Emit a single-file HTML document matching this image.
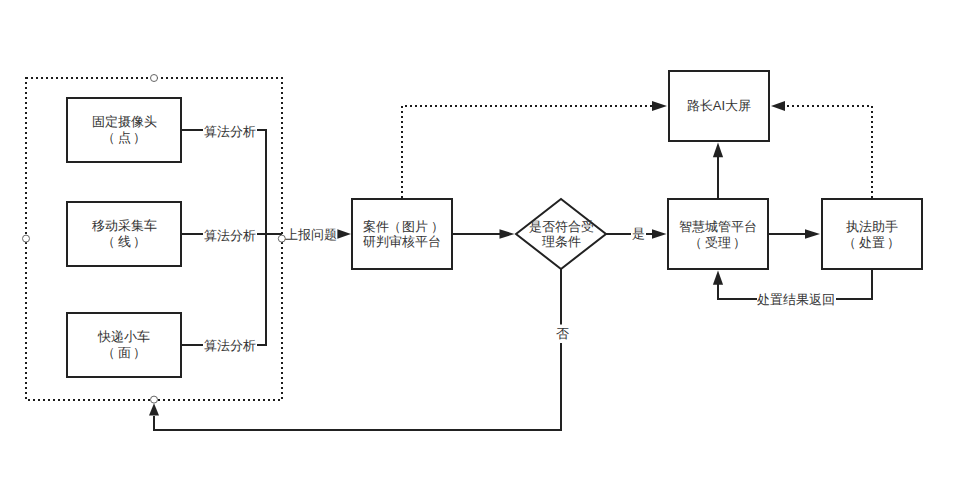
<!DOCTYPE html>
<html><head><meta charset="utf-8">
<style>
html,body{margin:0;padding:0;background:#fff;width:964px;height:484px;overflow:hidden}
svg{display:block}
text{font-family:"Liberation Sans",sans-serif;font-size:13px;fill:#333;text-anchor:start}
</style></head><body>
<svg width="964" height="484" viewBox="0 0 964 484">
<!-- dotted container -->
<rect x="26" y="78" width="256" height="322" fill="none" stroke="#1c1c1c" stroke-width="2" stroke-dasharray="2 3"/>

<g fill="none" stroke="#222" stroke-width="2">
  <rect x="67" y="98" width="114" height="64"/>
  <rect x="67" y="202" width="114" height="64"/>
  <rect x="67" y="313" width="114" height="64"/>
  <path d="M181 130H203M257 130H266V345H257M203 345H181"/>
  <path d="M181 234H203M257 234H282"/>
  <rect x="352" y="199" width="100" height="70"/>
  <path d="M452 234H500"/>
  <path d="M516 234L561 199L606 234L561 269Z"/>
  <path d="M606 234H631M646 234H652"/>
  <rect x="668" y="199" width="100" height="70"/>
  <rect x="669" y="71" width="100" height="70"/>
  <rect x="822" y="199" width="100" height="70"/>
  <path d="M718 199V155"/>
  <path d="M768 234H806"/>
  <path d="M872 269V299H836M757 299H718V284"/>
  <path d="M561 269V324.5M561 343V430H154V416"/>
</g>
<g fill="none" stroke="#1c1c1c" stroke-width="2" stroke-dasharray="2 3">
  <path d="M402 199V106H652" stroke-dashoffset="-1"/>
  <path d="M872 199V106H786" stroke-dashoffset="-1"/>
</g>
<g fill="#222">
  <path d="M337.4 229.2L351 234L337.4 238.8Z"/>
  <path d="M499.5 229.2L514.5 234L499.5 238.8Z"/>
  <path d="M652 229.2L666.5 234L652 238.8Z"/>
  <path d="M805 229.2L820 234L805 238.8Z"/>
  <path d="M652 101L667 106L652 111Z"/>
  <path d="M785 101L771 106L785 111Z"/>
  <path d="M712.9 157.3L718 142.5L723.1 157.3Z"/>
  <path d="M712.9 284.8L718 270.5L723.1 284.8Z"/>
  <path d="M149 415.6L154 403.3L159 415.6Z"/>
</g>
<g fill="#fff" stroke="#666" stroke-width="1">
  <circle cx="154" cy="78" r="3.5"/>
  <circle cx="26" cy="238.6" r="3.5"/>
  <circle cx="281.8" cy="238.6" r="3.5"/>
  <circle cx="154" cy="399.6" r="3.5"/>
</g>
<text x="91.5" y="125.5">固定摄像头</text>
<text x="101.5 117.5 132.5" y="141.5">（点）</text>
<text x="91.5" y="229.5">移动采集车</text>
<text x="101.5 117.5 132.5" y="245.5">（线）</text>
<text x="98.0" y="341.0">快递小车</text>
<text x="101.5 117.5 132.5" y="357.0">（面）</text>
<text x="204.0" y="135.5">算法分析</text>
<text x="204.0" y="239.5">算法分析</text>
<text x="204.0" y="349.8">算法分析</text>
<text x="284.5" y="238.5">上报问题</text>
<text x="363.0 376.0 387.5 402.0 415.0 431.0" y="230.5">案件（图片）</text>
<text x="363.0" y="246.0">研判审核平台</text>
<text x="528.5" y="230.5">是否符合受</text>
<text x="541.5" y="246.0">理条件</text>
<text x="632.0" y="238.0">是</text>
<text x="555.5" y="337.5">否</text>
<text x="686.72" y="110.0">路长AI大屏</text>
<text x="679.0" y="230.5">智慧城管平台</text>
<text x="689.0 705.0 718.0 733.0" y="246.5">（受理）</text>
<text x="846.0" y="230.5">执法助手</text>
<text x="843.0 859.0 872.0 887.0" y="246.5">（处置）</text>
<text x="757.0" y="304.0">处置结果返回</text>
</svg>
</body></html>
